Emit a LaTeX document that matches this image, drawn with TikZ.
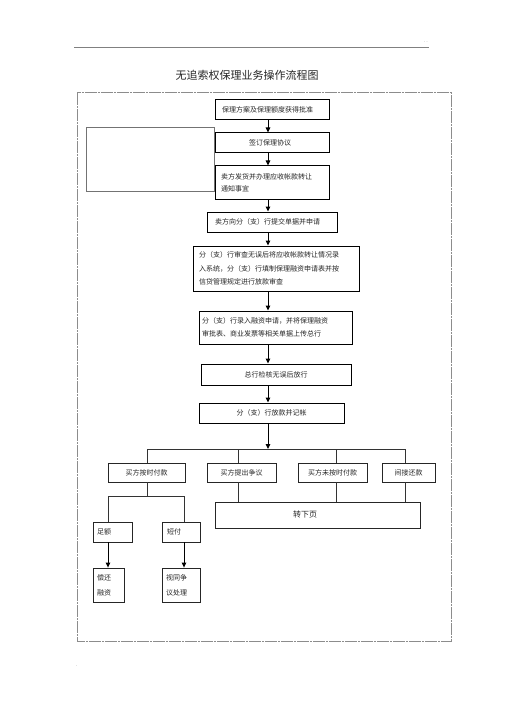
\documentclass[tikz,border=0pt]{standalone}
\usepackage{fontspec}
\newfontfamily\cjk{Noto Sans CJK SC}
\usetikzlibrary{arrows.meta}
\begin{document}
\begin{tikzpicture}[x=1pt,y=-1pt,
  mainbox/.style={draw=black, line width=1pt, inner sep=0pt, text=black!85, font=\cjk\fontsize{7}{13}\selectfont},
  subbox/.style={draw=black!85, line width=0.8pt, inner sep=0pt, text=black!85, font=\cjk\fontsize{7}{15}\selectfont},
  arr/.style={draw=black, line width=1pt, -{Triangle[length=5pt,width=4.5pt]}},
  link/.style={draw=black!80, line width=0.8pt},
  frame/.style={draw=black!45, line width=1pt, dash pattern=on 12pt off 1pt on 2pt off 1pt},
]
\useasboundingbox (0,0) rectangle (505,714);
\fill[white] (0,0) rectangle (505,714);
% header
\draw[draw=black!50, line width=0.6pt] (74,47) -- (429,47);
\node[font=\fontsize{5}{5}\selectfont, text=black!60, inner sep=0pt] (dots) at (426,42) {..};
\node[font=\fontsize{5}{5}\selectfont, text=black!60, inner sep=0pt] (dot) at (77,666) {.};
\node[font=\cjk\fontsize{11}{13}\selectfont, text=black!85, inner sep=0pt] (title) at (247,75) {无追索权保理业务操作流程图};
% frame
\draw[frame] (77,93) rectangle (451,641);
% left empty box
\node[draw=black!55, line width=0.7pt, minimum width=128pt, minimum height=64pt, inner sep=0pt] (empty) at (150,159) {};
% main column
\coordinate (ax) at (268,0);
\node[mainbox, minimum width=114pt, minimum height=20pt, text width=100pt, align=left] (b1) at (272,110) {保理方案及保理额度获得批准};
\node[mainbox, minimum width=114pt, minimum height=20pt] (b2) at (272,143) {\hspace*{-4pt}签订保理协议};
\node[mainbox, minimum width=114pt, minimum height=33pt, text width=102pt, align=left, font=\cjk\fontsize{7}{12}\selectfont] (b3) at (272,182.5) {卖方发货并办理应收帐款转让\\通知事宜};
\node[mainbox, minimum width=130pt, minimum height=20pt, text width=114pt, align=left] (b4) at (272,222) {卖方向分（支）行提交单据并申请};
\node[mainbox, minimum width=166pt, minimum height=45pt, text width=154pt, align=left, font=\cjk\fontsize{7}{13.5}\selectfont] (b5) at (276,268.5) {分（支）行审查无误后将应收帐款转让情况录\\入系统，分（支）行填制保理融资申请表并按\\信贷管理规定进行放款审查};
\node[mainbox, minimum width=153pt, minimum height=33pt, text width=147pt, align=left] (b6) at (275.5,327.5) {分（支）行录入融资申请，并将保理融资\\审批表、商业发票等相关单据上传总行};
\node[mainbox, minimum width=150pt, minimum height=21pt] (b7) at (276,374.5) {总行检核无误后放行};
\node[mainbox, minimum width=145pt, minimum height=20pt] (b8) at (271.5,413) {分（支）行放款并记帐};
\draw[arr] (b1.south -| ax) -- (b2.north -| ax);
\draw[arr] (b2.south -| ax) -- (b3.north -| ax);
\draw[arr] (b3.south -| ax) -- (b4.north -| ax);
\draw[arr] (b4.south -| ax) -- (b5.north -| ax);
\draw[arr] (b5.south -| ax) -- (b6.north -| ax);
\draw[arr] (b6.south -| ax) -- (b7.north -| ax);
\draw[arr] (b7.south -| ax) -- (b8.north -| ax);
% branch
\coordinate (hub) at (268,449);
\draw[arr] (b8.south -| ax) -- (hub);
\node[subbox, minimum width=77pt, minimum height=19pt] (ra) at (146.5,472.5) {买方按时付款};
\node[subbox, minimum width=69pt, minimum height=19pt] (rb) at (241.5,472.5) {买方提出争议};
\node[subbox, minimum width=69pt, minimum height=19pt] (rc) at (332.5,472.5) {买方未按时付款};
\node[subbox, minimum width=53pt, minimum height=19pt] (rd) at (408.5,472.5) {间接还款};
\coordinate (xa) at (147,0);
\coordinate (xb) at (238,0);
\coordinate (xc) at (336,0);
\coordinate (xd) at (405,0);
\draw[link] (hub -| xa) -- (hub -| xd);
\draw[link] (hub -| xa) -- (ra.north -| xa);
\draw[link] (hub -| xb) -- (rb.north -| xb);
\draw[link] (hub -| xc) -- (rc.north -| xc);
\draw[link] (hub -| xd) -- (rd.north -| xd);
% next page box
\node[subbox, minimum width=205pt, minimum height=26pt, text width=205pt, align=left, font=\cjk\fontsize{8}{10}\selectfont] (next) at (317.5,515) {\hspace*{78pt}\raisebox{2.5pt}{转下页}};
\draw[link] (rb.south -| xb) -- (next.north -| xb);
\draw[link] (rc.south -| xc) -- (next.north -| xc);
\draw[link] (rd.south -| xd) -- (next.north -| xd);
% left sub-tree
\coordinate (fork) at (147,496);
\coordinate (xl) at (108,0);
\coordinate (xr) at (184,0);
\node[subbox, minimum width=39pt, minimum height=20pt, text width=31pt, align=left] (zu) at (112.5,532) {足额};
\node[subbox, minimum width=38pt, minimum height=20pt, text width=28pt, align=left] (du) at (181,532) {短付};
\node[subbox, minimum width=31pt, minimum height=34pt, text width=23pt, align=left] (ch) at (108.5,585) {偿还\\融资};
\node[subbox, minimum width=38pt, minimum height=34pt, text width=30pt, align=left] (sh) at (181,585) {视同争\\议处理};
\draw[link] (ra.south -| xa) -- (fork);
\draw[link] (fork -| xl) -- (fork -| xr);
\draw[link] (fork -| xl) -- (zu.north -| xl);
\draw[link] (fork -| xr) -- (du.north -| xr);
\draw[arr] (zu.south -| xl) -- (ch.north -| xl);
\draw[arr] (du.south -| xr) -- (sh.north -| xr);
\end{tikzpicture}
\end{document}
